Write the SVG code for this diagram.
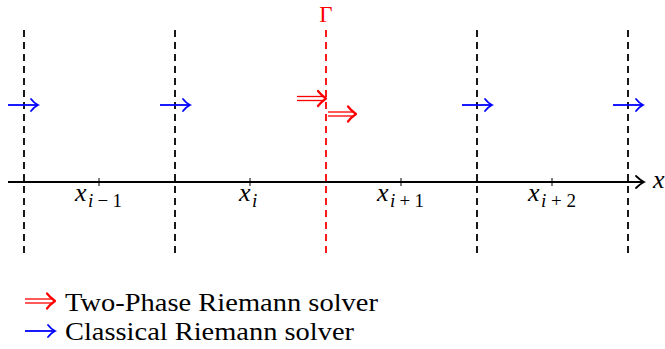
<svg xmlns="http://www.w3.org/2000/svg" width="665" height="349" viewBox="0 0 665 349">
<defs>
<style>
.cell{stroke:#000;stroke-width:1.8;stroke-dasharray:7,5;fill:none}
.iface{stroke:#f00;stroke-width:1.8;stroke-dasharray:7,5;fill:none}
.axis{stroke:#000;stroke-width:1.8;fill:none}
.tick{stroke:#000;stroke-width:1}
.blue{stroke:#00f;stroke-width:1.8;fill:none}
.red{stroke:#f00;stroke-width:1.3;fill:none}
.redhead{stroke:#f00;stroke-width:2.2;fill:none;stroke-linecap:round;stroke-linejoin:round}
.bluehead{stroke:#00f;stroke-width:1.8;fill:none;stroke-linecap:round}
.xl{font-family:"Liberation Serif",serif;font-size:26px;font-style:italic;fill:#000}
.sl{font-family:"Liberation Serif",serif;font-size:19px;fill:#000}
</style>
</defs>
<g id="cells">
<line class="cell" x1="24" y1="30" x2="24" y2="258"/>
<line class="cell" x1="175" y1="30" x2="175" y2="258"/>
<line class="cell" x1="477" y1="30" x2="477" y2="258"/>
<line class="cell" x1="628" y1="30" x2="628" y2="258"/>
</g>
<g id="interface">
<line class="iface" x1="326" y1="30" x2="326" y2="258"/>
<text x="326" y="22" text-anchor="middle" font-family="Liberation Serif, serif" font-size="23" fill="#f00">Γ</text>
</g>
<g id="axis">
<line class="axis" x1="8" y1="182" x2="643" y2="182"/>
<path class="axis" d="M636,176 Q640,180 644,182 Q640,184 636,188" stroke-linecap="round"/>
<line class="tick" x1="99" y1="178" x2="99" y2="186"/>
<line class="tick" x1="250" y1="178" x2="250" y2="186"/>
<line class="tick" x1="401" y1="178" x2="401" y2="186"/>
<line class="tick" x1="552" y1="178" x2="552" y2="186"/>
<text class="xl" x="653" y="188">x</text>
<text class="xl" x="75" y="201">x</text><text class="sl" x="88" y="207" textLength="34" lengthAdjust="spacing"><tspan font-style="italic">i</tspan>−1</text>
<text class="xl" x="239" y="201">x</text><text class="sl" x="252" y="207" font-style="italic">i</text>
<text class="xl" x="377" y="201">x</text><text class="sl" x="390" y="207" textLength="34" lengthAdjust="spacing"><tspan font-style="italic">i</tspan>+1</text>
<text class="xl" x="528" y="201">x</text><text class="sl" x="541" y="207" textLength="35" lengthAdjust="spacing"><tspan font-style="italic">i</tspan>+2</text>
</g>
<g id="connectors">
<g id="classical">
<line class="blue" x1="8" y1="105" x2="38" y2="105"/><path class="bluehead" d="M31,99 Q34,103 38,105 Q34,107 31,111"/>
<line class="blue" x1="160" y1="105" x2="190" y2="105"/><path class="bluehead" d="M183,99 Q186,103 190,105 Q186,107 183,111"/>
<line class="blue" x1="462" y1="105" x2="492" y2="105"/><path class="bluehead" d="M485,99 Q488,103 492,105 Q488,107 485,111"/>
<line class="blue" x1="613" y1="105" x2="643" y2="105"/><path class="bluehead" d="M636,99 Q639,103 643,105 Q639,107 636,111"/>
</g>
<g id="twophase">
<line class="red" x1="297" y1="96.5" x2="324" y2="96.5"/><line class="red" x1="297" y1="100.5" x2="324" y2="100.5"/>
<path class="redhead" d="M318,91 Q321,95 326,98.5 Q321,102 318,106"/>
<line class="red" x1="328" y1="112" x2="354" y2="112"/><line class="red" x1="328" y1="116" x2="354" y2="116"/>
<path class="redhead" d="M348,106.5 Q351,110.5 356,114 Q351,117.5 348,121.5"/>
</g>
</g>
<g id="legend" font-family="Liberation Serif, serif" font-size="26" fill="#000">
<line class="red" x1="25" y1="299" x2="53" y2="299"/><line class="red" x1="25" y1="303" x2="53" y2="303"/>
<path class="redhead" d="M47,293.5 Q50,297.5 55,301 Q50,304.5 47,308.5"/>
<text x="65" y="311" textLength="313" lengthAdjust="spacingAndGlyphs">Two-Phase Riemann solver</text>
<line class="blue" x1="25" y1="331" x2="55" y2="331"/><path class="bluehead" d="M48,325 Q51,329 55,331 Q51,333 48,337"/>
<text x="65" y="340" textLength="289" lengthAdjust="spacingAndGlyphs">Classical Riemann solver</text>
</g>
</svg>
